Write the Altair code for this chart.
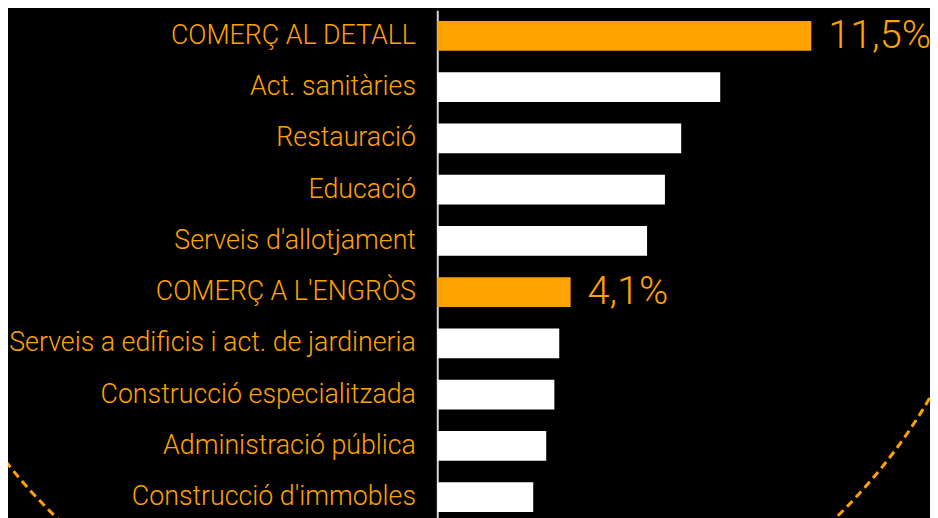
import altair as alt
import pandas as pd

categories = [
    "COMERÇ AL DETALL",
    "Act. sanitàries",
    "Restauració",
    "Educació",
    "Serveis d'allotjament",
    "COMERÇ A L'ENGRÒS",
    "Serveis a edificis i act. de jardineria",
    "Construcció especialitzada",
    "Administració pública",
    "Construcció d'immobles",
]
values = [11.5, 8.7, 7.5, 7.0, 6.45, 4.1, 3.75, 3.6, 3.35, 2.95]
kind = ["hl", "no", "no", "no", "no", "hl", "no", "no", "no", "no"]
value_labels = ["11,5%", "", "", "", "", "4,1%", "", "", "", ""]

ORANGE = "#FFA200"
FONT = "Roboto"
XDOM = [0, 15.15]

df = pd.DataFrame({"cat": categories, "value": values, "kind": kind, "label": value_labels})

y_enc = alt.Y(
    "cat:N",
    sort=categories,
    title=None,
    scale=alt.Scale(paddingInner=0.42, paddingOuter=0.21),
    axis=alt.Axis(
        domain=True,
        domainColor="#d8d8d8",
        domainWidth=2,
        ticks=False,
        grid=False,
        labelColor=ORANGE,
        labelFont=FONT,
        labelFontSize=27,
        labelFontWeight=300,
        labelPadding=22,
        labelLimit=600,
    ),
)
x_enc = alt.X("value:Q", scale=alt.Scale(domain=XDOM, nice=False, zero=True), axis=None)

bars = alt.Chart(df).mark_bar().encode(
    y=y_enc,
    x=x_enc,
    color=alt.Color("kind:N", scale=alt.Scale(domain=["hl", "no"], range=[ORANGE, "#ffffff"]), legend=None),
)

text = alt.Chart(df).transform_filter("datum.label != ''").mark_text(
    align="left", baseline="middle", dx=17, fontSize=40, fontWeight=300, font=FONT, color=ORANGE
).encode(y=alt.Y("cat:N", sort=categories), x=alt.X("value:Q", scale=alt.Scale(domain=XDOM, nice=False)), text="label:N")

circle = alt.Chart(pd.DataFrame({"a": [0]})).mark_point(
    shape="circle", size=1276900, filled=False, stroke=ORANGE, strokeWidth=3, strokeDash=[8, 5], opacity=1
).encode(x=alt.value(9), y=alt.value(106))

chart = alt.layer(circle, bars, text).properties(
    width=497,
    height=517,
    padding={"left": 433, "top": 0, "right": 0, "bottom": 0},
    autosize="none",
    background="black",
).configure_view(stroke=None)

chart.save("out.html", embed_options={"renderer": "svg", "actions": False})
